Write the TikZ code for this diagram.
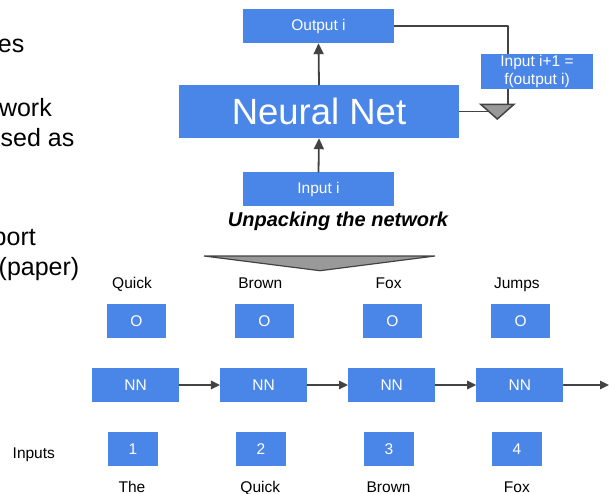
\documentclass[tikz,border=0pt]{standalone}
\usepackage{fontspec}
\setmainfont{Liberation Sans}
\usepackage{tikz}
\usetikzlibrary{arrows.meta}
\usetikzlibrary{calc}

\definecolor{slideblue}{HTML}{4A86E8}
\definecolor{linegray}{HTML}{434343}
\definecolor{trigray}{HTML}{999999}

\tikzset{
  blk/.style={fill=slideblue,text=white,inner sep=0pt,font=\fontsize{15.5}{18}\selectfont},
  lbl/.style={anchor=base,inner sep=0pt,font=\fontsize{15.5}{18}\selectfont},
  side/.style={anchor=base east,inner sep=0pt,font=\fontsize{25}{30}\selectfont},
  link/.style={draw=linegray,line width=1.8pt},
}

\begin{document}
\begin{tikzpicture}[line cap=round,line join=round,>={Triangle[length=11pt,width=10pt]},x=1pt,y=-1pt]
      \useasboundingbox (0,0) rectangle (609,494);
      \clip (0,0) rectangle (609,494);
      \node[side] (s1) at (24.5,53) {es};
      \node[side] (s2) at (52,117) {work};
      \node[side] (s3) at (74.5,147) {sed as};
      \node[side] (s4) at (36,245) {port};
      \node[side] (s5) at (79.5,275) {(paper)};
      \node[blk,minimum width=151pt,minimum height=34pt] (out) at (318.5,26) {Output i};
      \node[blk,minimum width=280pt,minimum height=53pt,font=\fontsize{36.5}{40}\selectfont] (net) at (319,111.5) {Neural Net};
      \node[blk,minimum width=151pt,minimum height=34pt] (inp) at (318.5,189) {Input i};
      \draw[link,->] (net.north) -- (out.south);
      \draw[link,->] (inp.north) -- (net.south);
      \coordinate (drop) at (508.3,104.3);
      \coordinate (merge) at (490,111.5);
      \draw[link,line cap=butt] (out.east) -| (drop);
      \draw[link,line cap=butt] (net.east) -- (merge);
      \filldraw[fill=trigray,draw=linegray,line width=1.5pt,line join=miter] (480.7,104.3) -- (514,104.3) -- (497.3,119) -- cycle;
      \node[blk,minimum width=112pt,minimum height=35pt,align=center] (next) at (537,71.5) {Input i+1 =\\f(output i)};
      \node[anchor=base,inner sep=0pt,font=\fontsize{20}{24}\selectfont\bfseries\itshape] (unpack) at (338,226.7) {Unpacking the network};
      \filldraw[fill=trigray,draw=linegray,line width=1.2pt,line join=miter] (204,256) -- (435,256) -- (320,270.7) -- cycle;
      \node[lbl,anchor=base west] (inputs) at (12.5,458.5) {Inputs};
      \foreach \i/\top/\bot in {1/Quick/The,2/Brown/Quick,3/Fox/Brown,4/Jumps/Fox} {
        \node[lbl] (w\i) at ({132+128.3*(\i-1)},288.3) {\top};
        \node[blk,minimum width=59pt,minimum height=33.7pt] (o\i) at ({136.3+128.1*(\i-1)},321) {O};
        \node[blk,minimum width=87pt,minimum height=34pt] (nn\i) at ({135.5+128.1*(\i-1)},385) {NN};
        \node[blk,minimum width=50pt,minimum height=33.4pt] (n\i) at ({133+128*(\i-1)},449) {\i};
        \node[lbl] (t\i) at ({132+128.3*(\i-1)},492) {\bot};
      }
      \coordinate (end) at (609,385);
      \foreach \i/\j in {1/2,2/3,3/4}
        \draw[draw=linegray,line width=1.5pt,-{Triangle[length=9pt,width=8.5pt]}] (nn\i) -- (nn\j);
      \draw[draw=linegray,line width=1.5pt,-{Triangle[length=9pt,width=8.5pt]}] (nn4) -- (end);
\end{tikzpicture}
\end{document}
